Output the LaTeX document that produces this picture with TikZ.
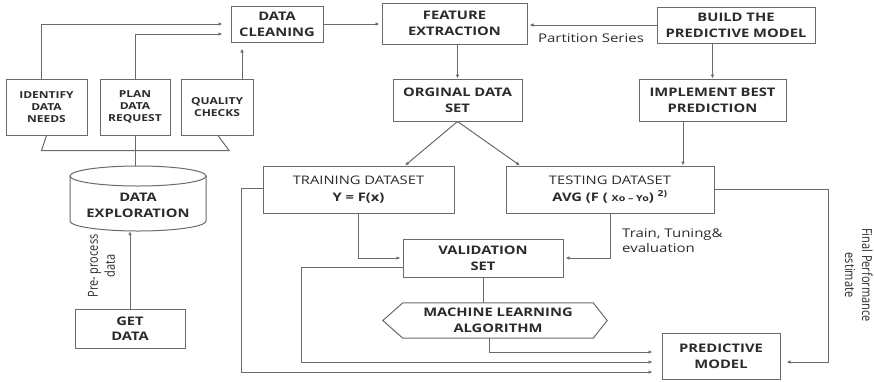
\documentclass[tikz,border=0pt]{standalone}
\usepackage{fontspec}
\setmainfont{Open Sans}[FakeStretch=1.25]
\newfontfamily\uprightlabel{Open Sans}
\usetikzlibrary{arrows.meta,calc}

\definecolor{linegray}{HTML}{6A6A6A}
\definecolor{inkdark}{HTML}{2B2B2B}

% rotated side labels: glyphs widened across the line direction
\newcommand{\sidetext}[1]{\scalebox{1}[1.25]{\begin{tabular}{@{}c@{}}#1\end{tabular}}}

\begin{document}
\begin{tikzpicture}[
  x=1pt, y=-1pt,
  every node/.style={text=inkdark},
  box/.style={draw=linegray, line width=1pt, fill=white, align=center,
    inner sep=0pt, font=\bfseries\fontsize{11.8}{16}\selectfont},
  smallbox/.style={box, font=\bfseries\fontsize{9.6}{12}\selectfont},
  plainbox/.style={box, font=\fontsize{11.8}{17}\selectfont},
  dims/.style 2 args={minimum width=#1pt, minimum height=#2pt},
  lbl/.style={align=center, inner sep=0pt, font=\fontsize{12}{15}\selectfont},
  sidelbl/.style={inner sep=0pt, font=\uprightlabel\fontsize{11}{13.5}\selectfont},
  conn/.style={draw=linegray, line width=1pt},
  arr/.style={conn, -{Latex[length=4pt,width=3.5pt]}},
]
\useasboundingbox (0,0) rectangle (874,381);

% ---------- top row ----------
\node[box, dims={92}{36}]  (clean) at (277,24)    {DATA\\CLEANING};
\node[box, dims={145}{41}] (feat)  at (454.5,23.5){FEATURE\\EXTRACTION};
\node[box, dims={158}{36}] (build) at (736,25)    {BUILD THE\\PREDICTIVE MODEL};

% ---------- planning boxes ----------
\node[smallbox, dims={81}{56}] (ident) at (46.5,107) {IDENTIFY\\DATA\\NEEDS};
\node[smallbox, dims={70}{56}] (plan)  at (135,107)  {PLAN\\DATA\\REQUEST};
\node[smallbox, dims={72}{56}] (qual)  at (217,107)  {QUALITY\\CHECKS};

% ---------- second row ----------
\node[box, dims={129}{42}] (orig) at (457.5,100) {ORGINAL DATA\\SET};
\node[box, dims={147}{42}] (impl) at (712.5,100) {IMPLEMENT BEST\\PREDICTION};

% ---------- data exploration store ----------
\node[inner sep=0pt, dims={136}{65}] (explo) at (138,198.5) {};
\draw[conn, fill=white] (70,176) -- (70,221)
  arc[start angle=180, end angle=0, x radius=68, y radius=10] -- (206,176);
\draw[conn, fill=white] (138,176) ellipse[x radius=68, y radius=10];
\node[align=center, inner sep=0pt, font=\bfseries\fontsize{11.8}{16}\selectfont]
  at (138,205) {DATA\\EXPLORATION};

\node[box, dims={110}{39}, font=\bfseries\fontsize{11.8}{15}\selectfont] (getdata)
  at (130,328.5) {GET\\DATA};

% ---------- datasets ----------
\node[plainbox, dims={191}{47}] (train) at (358.5,189.5)
  {TRAINING DATASET\\\textbf{Y = F(x)}};
\node[plainbox, dims={208}{47}] (test) at (610,189.5)
  {TESTING DATASET\\\textbf{AVG (F ( {\fontsize{8.5}{9}\selectfont Xo – Yo}) \textsuperscript{2)}}};

\node[box, dims={160}{38}] (valid) at (483,258) {VALIDATION\\SET};

% machine learning algorithm (pointed box)
\node[inner sep=0pt, dims={190}{35}] (ml) at (498,320.5) {};
\draw[conn] (ml.north west) -- (ml.north east) -- ($(ml.east)+(14,0)$)
  -- (ml.south east) -- (ml.south west) -- ($(ml.west)+(-20,0)$) -- cycle;
\node[align=center, inner sep=0pt, font=\bfseries\fontsize{11.8}{16}\selectfont]
  at (ml.center) {MACHINE LEARNING\\ALGORITHM};

\node[box, dims={118}{46}] (pred) at (721,356) {PREDICTIVE\\MODEL};

% ---------- connectors: preparation ----------
\draw[conn] (ident.south) -- ([xshift=-5pt,yshift=-15pt]ident.south)
  -- ([xshift=12pt,yshift=-15pt]qual.south) -- ([xshift=1pt]qual.south);
\draw[conn] (plan.south) -- (plan.south |- explo.north);
\draw[arr] ([xshift=-5.5pt]ident.north) |- ([xshift=-8pt]clean.west);
\draw[arr] (plan.north) |- ([xshift=-8pt,yshift=-10pt]clean.west);
\draw[arr, shorten >=6pt] ([xshift=25pt]qual.north) -- ([xshift=-35pt]clean.south);
\draw[arr] (getdata.north) -- (getdata.north |- explo.south);
\node[sidelbl, rotate=90] (prelbl) at (103,266) {\sidetext{Pre- process\\data}};

% ---------- connectors: feature pipeline ----------
\draw[arr, shorten >=2pt] (clean.east) -- (clean.east -| feat.west);
\draw[arr, shorten >=2pt] (build.west) -- (build.west -| feat.east);
\node[lbl] (part) at (591,38) {Partition Series};
\draw[arr] (orig.north |- feat.south) -- (orig.north);
\draw[arr] (impl.north |- build.south) -- (impl.north);
\draw[arr] (orig.south) -- ([xshift=46.5pt]train.north);
\draw[arr] (orig.south) -- ([xshift=-90pt]test.north);
\draw[arr] ([xshift=-29.5pt]impl.south) -- ([xshift=-29.5pt]impl.south |- test.north);

% ---------- connectors: validation and model ----------
\draw[arr, shorten >=2pt] (train.south) |- (valid.west);
\draw[arr, shorten >=2pt] (test.south) |- (valid.east);
\node[lbl, align=left, anchor=west] (ttlbl) at (622,240.5) {Train, Tuning\&\\evaluation};
\draw[conn] (valid.south) -- (valid.south |- ml.north);
\draw[arr, shorten >=9pt] ([xshift=-9pt]ml.south) |- ([yshift=4pt]pred.west);
\draw[arr, shorten >=9pt] ([yshift=-9pt]valid.west) -- ++(-101,0) |- ([yshift=-6pt]pred.west);
\draw[arr, shorten >=9pt] ([yshift=1.5pt]train.west) -- ++(-21,0) |- ([yshift=-16pt]pred.west);
\draw[arr, shorten >=6pt] ([yshift=0.5pt]test.east) -- ++(114,0) |- ([yshift=-6pt]pred.east);
\node[sidelbl, rotate=-90] (fplbl) at (857,275) {\sidetext{Final Performance\\estimate}};
\end{tikzpicture}
\end{document}
